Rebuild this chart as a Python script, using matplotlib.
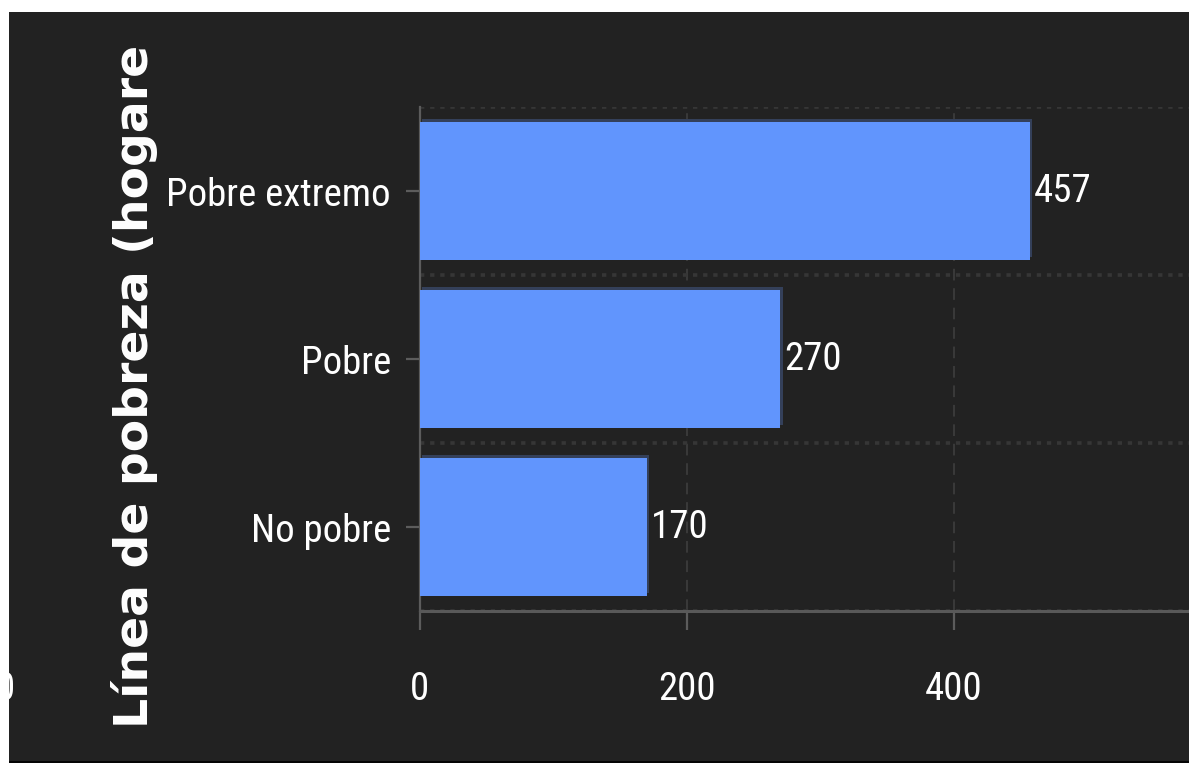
import matplotlib
matplotlib.use("Agg")
import matplotlib.pyplot as plt
import matplotlib.patches as patches
from matplotlib import patheffects
from matplotlib.font_manager import FontProperties

# data
categorias = ["No pobre", "Pobre", "Pobre extremo"]
hogares = [170, 270, 457]
x_ticks = [0, 200, 400]

bg = "#222222"
bar_color = "#6195FD"
grid_color = "#3a3a3a"
axis_color = "#5c5c5c"
narrow = FontProperties(family=["Roboto Condensed", "DejaVu Sans"], stretch="condensed", size=28)

W, H = 1189, 763
fig = plt.figure(figsize=(W / 100, H / 100), dpi=100)
fig.patch.set_facecolor(bg)

# axes placed in pixel terms (image is a crop of a larger chart)
ax = fig.add_axes([420 / W, (H - 611) / H, 1 - 420 / W, (611 - 107) / H])
ax.set_facecolor(bg)

bars = ax.barh(range(len(categorias)), hogares, height=0.82, color=bar_color,
               edgecolor="none", zorder=3)
for b in bars:
    b.set_path_effects([
        patheffects.SimplePatchShadow(offset=(1.5, 2.2), shadow_rgbFace="#34405a", alpha=1.0),
        patheffects.Normal(),
    ])

labels = ax.bar_label(bars, labels=[str(v) for v in hogares], padding=3,
                      color="white", fontproperties=narrow)

ax.set_xlim(0, (W - 420) / 1.335)
ax.set_ylim(-0.5, len(categorias) - 0.5)

ax.set_xticks(x_ticks)
ax.set_xticklabels([str(t) for t in x_ticks], fontproperties=narrow, color="white")
ax.set_yticks(range(len(categorias)))
ax.set_yticklabels(categorias, fontproperties=narrow, color="white")

ax.tick_params(axis="x", length=14, width=1.6, color=axis_color, pad=29)
ax.tick_params(axis="y", length=10, width=1.6, color=axis_color, pad=11)

# grid: dashed verticals at ticks, dotted horizontals between categories
ax.set_axisbelow(True)
ax.grid(axis="x", color=grid_color, linestyle=(0, (6, 4)), linewidth=1.4)
ax.set_yticks([-0.5, 0.5, 1.5, 2.5], minor=True)
ax.tick_params(axis="y", which="minor", length=0)
ax.grid(axis="y", which="minor", color="#363636", linestyle=(0, (1.2, 1.6)), linewidth=2.6)

for side in ["top", "right"]:
    ax.spines[side].set_visible(False)
ax.spines["left"].set_color(axis_color)
ax.spines["left"].set_linewidth(1.6)
ax.spines["bottom"].set_color("#595959")
ax.spines["bottom"].set_linewidth(2.2)

# y axis title (cropped at the top in the source)
fig.text(135 / W, (H - 728) / H, "Línea de pobreza (hogare", rotation=90,
         ha="center", va="bottom", color="white", fontsize=34, fontweight="bold",
         family="DejaVu Sans")

# leftover glyph from a neighbouring panel, mostly hidden by the margin
fig.text(15 / W, (H - 690) / H, "0", ha="right", va="center", color="white",
         fontproperties=narrow)

# white margins and dark bottom edge of the screenshot
fig.add_artist(patches.Rectangle((0, (H - 12) / H), 1, 12 / H, transform=fig.transFigure,
                                 facecolor="white", edgecolor="none", zorder=20))
fig.add_artist(patches.Rectangle((0, 0), 9 / W, 1, transform=fig.transFigure,
                                 facecolor="white", edgecolor="none", zorder=20))
fig.add_artist(patches.Rectangle((9 / W, 0), 1, 2 / H, transform=fig.transFigure,
                                 facecolor="#050505", edgecolor="none", zorder=20))

fig.savefig("out.png", dpi=100, facecolor=bg)
